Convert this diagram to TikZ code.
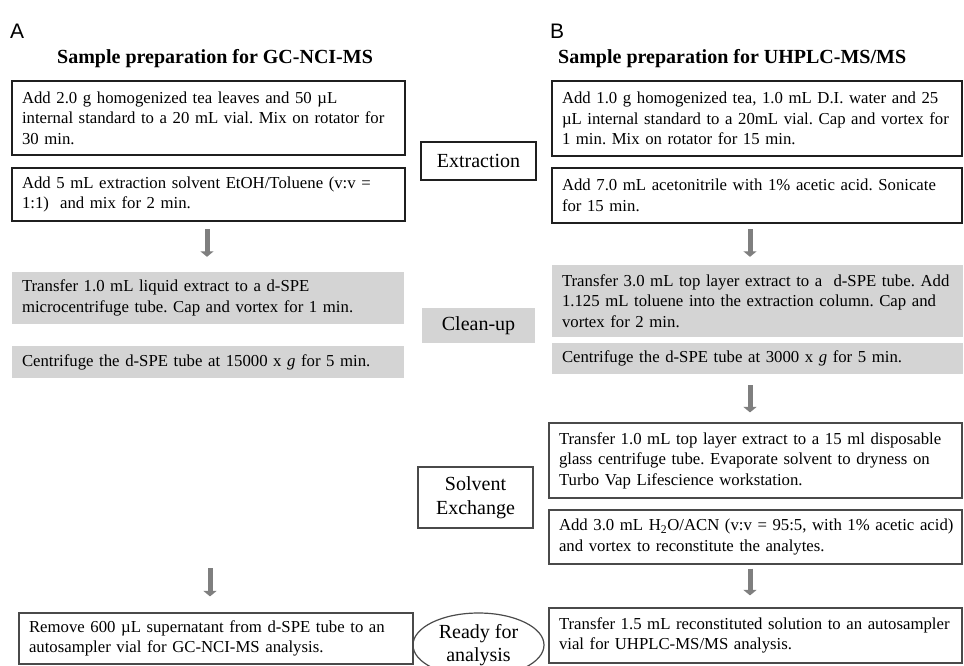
\documentclass[tikz,border=0pt]{standalone}
\usepackage{fontspec}
\setmainfont{Liberation Serif}
\newfontfamily\letterfont{Liberation Sans}
\usetikzlibrary{arrows.meta,shapes.geometric}
\definecolor{boxgray}{HTML}{D4D4D4}
\definecolor{arrgray}{HTML}{7F7F7F}
\definecolor{thinline}{HTML}{4A4A4A}
\newcommand\boxline[1]{\mbox{#1}}
\frenchspacing
\tikzset{
  body/.style={font=\fontsize{16.75}{20.5}\selectfont\frenchspacing, align=left, inner xsep=10pt, inner ysep=0pt, anchor=center},
  heavybox/.style={body, draw=black!88, line width=2.2pt},
  lightbox/.style={body, draw=thinline, line width=1.2pt},
  shadebox/.style={body, fill=boxgray},
  stagelabel/.style={font=\fontsize{20}{23.5}\selectfont, align=center, inner sep=0pt, anchor=center},
  heading/.style={font=\fontsize{20}{24}\selectfont\bfseries, inner sep=0pt, anchor=base west},
  panelletter/.style={font=\fontsize{21}{24}\letterfont, inner sep=0pt, anchor=base west},
  flowarrow/.style={draw=arrgray, line width=5pt, -{Triangle[width=13pt,length=5.5pt]}},
}
\begin{document}
\begin{tikzpicture}[x=1pt,y=-1pt]
\useasboundingbox (0,0) rectangle (964,665);
\clip (0,0) rectangle (964,665);

% panel letters and headings
\node[panelletter] (A) at (10,38) {A};
\node[panelletter] (B) at (550,38) {B};
\node[heading] (hA) at (57,63) {Sample preparation for GC-NCI-MS};
\node[heading] (hB) at (558,63) {Sample preparation for UHPLC-MS/MS};

% left column
\node[heavybox, minimum width=393pt, minimum height=74pt, text width=373pt] (L1) at (208.5,118)
  {\boxline{Add 2.0 g homogenized tea leaves and 50 µL}\\\boxline{internal standard to a 20 mL vial. Mix on rotator for}\\\boxline{30 min.}};
\node[heavybox, minimum width=393pt, minimum height=53pt, text width=373pt] (L2) at (208.5,194.5)
  {\boxline{Add 5 mL extraction solvent EtOH/Toluene (v:v =}\\\boxline{1:1)\ \ and mix for 2 min.}};
\node[shadebox, minimum width=392pt, minimum height=52pt, text width=372pt] (L3) at (208,298)
  {\boxline{Transfer 1.0 mL liquid extract to a d-SPE}\\\boxline{microcentrifuge tube. Cap and vortex for 1 min.}};
\node[shadebox, minimum width=392pt, minimum height=32pt, text width=372pt] (L4) at (208,362)
  {\boxline{Centrifuge the d-SPE tube at 15000 x \textit{g} for 5 min.}};
\node[lightbox, minimum width=394pt, minimum height=51pt, text width=374pt] (L5) at (216,638.5)
  {\boxline{Remove 600 µL supernatant from d-SPE tube to an}\\\boxline{autosampler vial for GC-NCI-MS analysis.}};

% stage labels
\node[stagelabel, draw=black!88, line width=2.2pt, minimum width=115pt, minimum height=38pt] (ext) at (478.5,161) {Extraction};
\node[stagelabel, fill=boxgray, minimum width=113pt, minimum height=35pt] (clean) at (478.5,325.5) {Clean-up};
\node[stagelabel, draw=thinline, line width=1.2pt, minimum width=115pt, minimum height=61pt] (solv) at (475.5,497.5) {Solvent\\Exchange};
\node[stagelabel, ellipse, draw=thinline, line width=1.2pt, minimum width=131pt, minimum height=64pt] (ready) at (478.5,645) {Ready for\\analysis};

% right column
\node[heavybox, minimum width=410pt, minimum height=75pt, text width=390pt] (R1) at (757,118.5)
  {\boxline{Add 1.0 g homogenized tea, 1.0 mL D.I. water and 25}\\\boxline{µL internal standard to a 20mL vial. Cap and vortex for}\\\boxline{1 min. Mix on rotator for 15 min.}};
\node[heavybox, minimum width=410pt, minimum height=55pt, text width=390pt] (R2) at (757,195.5)
  {\boxline{Add 7.0 mL acetonitrile with 1\% acetic acid. Sonicate}\\\boxline{for 15 min.}};
\node[shadebox, minimum width=411pt, minimum height=72pt, text width=391pt] (R3) at (757.5,301)
  {\boxline{Transfer 3.0 mL top layer extract to a\ \ d-SPE tube. Add}\\\boxline{1.125 mL toluene into the extraction column. Cap and}\\\boxline{vortex for 2 min.}};
\node[shadebox, minimum width=411pt, minimum height=31pt, text width=391pt] (R4) at (757.5,358.5)
  {\boxline{Centrifuge the d-SPE tube at 3000 x \textit{g} for 5 min.}};
\node[lightbox, minimum width=413pt, minimum height=75pt, text width=393pt] (R5) at (755.5,460.5)
  {\boxline{Transfer 1.0 mL top layer extract to a 15 ml disposable}\\\boxline{glass centrifuge tube. Evaporate solvent to dryness on}\\\boxline{Turbo Vap Lifescience workstation.}};
\node[lightbox, minimum width=413pt, minimum height=54pt, text width=393pt] (R6) at (755.5,537)
  {\boxline{Add 3.0 mL H\textsubscript{2}O/ACN (v:v = 95:5, with 1\% acetic acid)}\\\boxline{and vortex to reconstitute the analytes.}};
\node[lightbox, minimum width=413pt, minimum height=55pt, text width=393pt] (R7) at (755.5,635.5)
  {\boxline{Transfer 1.5 mL reconstituted solution to an autosampler}\\\boxline{vial for UHPLC-MS/MS analysis.}};

% arrows
\draw[flowarrow, shorten <=7pt, shorten >=15pt] ([xshift=-1.5pt]L2.south) -- ([xshift=-1pt]L3.north);
\draw[flowarrow, shorten <=190pt, shorten >=16pt] ([xshift=2pt]L4.south) -- ([xshift=2pt]L4.south |- L5.north);
\draw[flowarrow, shorten <=5pt, shorten >=8pt] ([xshift=-7pt]R2.south) -- ([xshift=-7pt]R2.south |- R3.north);
\draw[flowarrow, shorten <=11pt, shorten >=10pt] ([xshift=-7.5pt]R4.south) -- ([xshift=-7.5pt]R4.south |- R5.north);
\draw[flowarrow, shorten <=4pt, shorten >=12pt] ([xshift=-5.5pt]R6.south) -- ([xshift=-5.5pt]R6.south |- R7.north);
\end{tikzpicture}
\end{document}
